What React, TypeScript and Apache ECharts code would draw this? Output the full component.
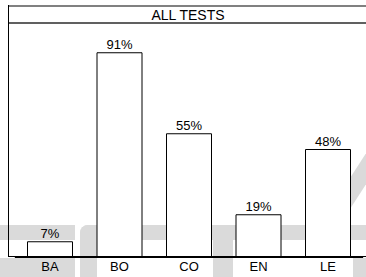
import React, { useEffect, useRef } from "react";
import * as echarts from "echarts";

const categories = ["BA", "BO", "CO", "EN", "LE"];
const values = [7, 91, 55, 19, 48];
const titleText = "ALL TESTS";

const FONT = "'Liberation Sans', Arial, Helvetica, sans-serif";
const WM = "#dadada";

export default function App() {
  const ref = useRef<HTMLDivElement>(null);
  useEffect(() => {
    if (!ref.current) return;
    const chart = echarts.init(ref.current, undefined, { renderer: "svg" });
    chart.setOption({
      animation: false,
      backgroundColor: "#ffffff",
      title: {
        text: titleText,
        left: 188,
        top: 7.5,
        padding: 0,
        textAlign: "center",
        textStyle: { fontFamily: FONT, fontSize: 14, fontWeight: "normal", color: "#000" },
      },
      grid: { left: 15.25, right: 3.25, top: 32, bottom: 20, containLabel: false },
      xAxis: {
        type: "category",
        data: categories,
        axisLine: { show: true, lineStyle: { color: "#000", width: 1 } },
        axisTick: { show: false },
        axisLabel: { fontFamily: FONT, fontSize: 13, color: "#000", margin: 3 },
        splitLine: { show: false },
      },
      yAxis: {
        type: "value",
        min: 0,
        max: 100,
        show: false,
        splitLine: { show: false },
      },
      series: [
        {
          type: "bar",
          data: values,
          barWidth: 46,
          itemStyle: { color: "#ffffff", borderColor: "#000", borderWidth: 1 },
          label: {
            show: true,
            position: "top",
            distance: 1,
            formatter: (p: any) => `${p.value}%`,
            fontFamily: FONT,
            fontSize: 13,
            color: "#000",
          },
          z: 2,
        },
      ],
      graphic: [
        { type: "rect", z: -10, shape: { x: 0, y: 225, width: 75, height: 15 }, style: { fill: WM } },
        { type: "rect", z: -10, shape: { x: 0, y: 258, width: 75, height: 19 }, style: { fill: WM } },
        { type: "rect", z: -10, shape: { x: 80, y: 225, width: 286, height: 15, r: [8, 0, 0, 0] }, style: { fill: WM } },
        { type: "rect", z: -10, shape: { x: 80, y: 225, width: 17, height: 52, r: [8, 0, 0, 0] }, style: { fill: WM } },
        { type: "rect", z: -10, shape: { x: 213, y: 240, width: 20, height: 37 }, style: { fill: WM } },
        { type: "polygon", z: -10, shape: { points: [[381, 130], [401, 130], [330, 240], [310, 240]] }, style: { fill: WM } },
        { type: "rect", z: -10, shape: { x: 353, y: 258, width: 13, height: 19 }, style: { fill: WM } },
        { type: "line", z: 100, shape: { x1: 8, y1: 6, x2: 366, y2: 6 }, style: { stroke: "#808080", lineWidth: 2 } },
        { type: "line", z: 100, shape: { x1: 8, y1: 23, x2: 366, y2: 23 }, style: { stroke: "#606060", lineWidth: 2 } },
        { type: "line", z: 100, shape: { x1: 8.5, y1: 5, x2: 8.5, y2: 257 }, style: { stroke: "#000", lineWidth: 1 } },
        { type: "line", z: 100, shape: { x1: 8, y1: 256.5, x2: 366, y2: 256.5 }, style: { stroke: "#000", lineWidth: 1 } },
      ],
    });
    return () => chart.dispose();
  }, []);
  return (
    <div
      ref={ref}
      style={{ position: "fixed", left: 0, top: 0, width: 366, height: 277 }}
    />
  );
}
